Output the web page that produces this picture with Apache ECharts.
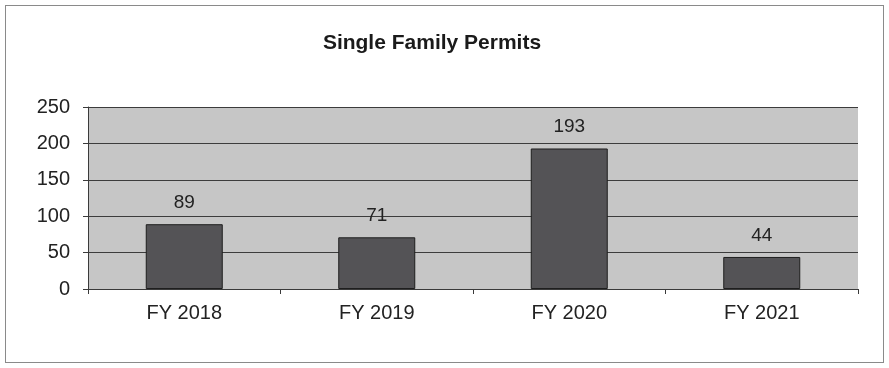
<!DOCTYPE html>
<html>
<head>
<meta charset="utf-8">
<script src="https://cdn.jsdelivr.net/npm/echarts@6/dist/echarts.min.js"></script>
<style>
  html, body { margin: 0; padding: 0; background: #fff; }
  #frame { position: absolute; left: 5px; top: 5px; width: 879px; height: 358px; border: 1px solid #8a8a8a; box-sizing: border-box; }
  #chart { position: absolute; left: 0; top: 0; width: 889px; height: 368px; }
</style>
</head>
<body>
<div id="frame"></div>
<div id="chart"></div>
<script>
// Single family permits by fiscal year
const categories = ['FY 2018', 'FY 2019', 'FY 2020', 'FY 2021'];
const permits = [89, 71, 193, 44];
const yTicks = [0, 50, 100, 150, 200, 250];

const chart = echarts.init(document.getElementById('chart'), null, { renderer: 'canvas' });
chart.setOption({
  animation: false,
  title: {
    text: 'Single Family Permits',
    left: 427, top: 28, textAlign: 'center',
    textStyle: { fontFamily: 'Liberation Sans, Arial', fontSize: 21, fontWeight: 'bold', color: '#1a1a1a' }
  },
  grid: {
    left: 88, right: 31, top: 107, bottom: 79,
    show: true, backgroundColor: '#c6c6c6', borderWidth: 0
  },
  xAxis: {
    type: 'category',
    data: categories,
    axisLine: { lineStyle: { color: '#3a3a3a', width: 1 } },
    axisTick: { show: true, length: 5, lineStyle: { color: '#3a3a3a' } },
    axisLabel: { margin: 14, fontFamily: 'Liberation Sans, Arial', fontSize: 20, color: '#222' }
  },
  yAxis: {
    type: 'value',
    min: yTicks[0], max: yTicks[yTicks.length - 1], interval: 50,
    axisLine: { show: true, lineStyle: { color: '#3a3a3a', width: 1 } },
    axisTick: { show: true, length: 5, lineStyle: { color: '#3a3a3a' } },
    axisLabel: { margin: 18, fontFamily: 'Liberation Sans, Arial', fontSize: 20, color: '#222' },
    splitLine: { show: true, lineStyle: { color: '#3c3c3c', width: 1 } }
  },
  series: [{
    type: 'bar',
    data: permits,
    barWidth: '40%',
    itemStyle: { color: '#545356', borderColor: '#1e1e1e', borderWidth: 1 },
    label: {
      show: true, position: 'top', distance: 12,
      fontFamily: 'Liberation Sans, Arial', fontSize: 19, color: '#222'
    }
  }]
});
</script>
</body>
</html>
